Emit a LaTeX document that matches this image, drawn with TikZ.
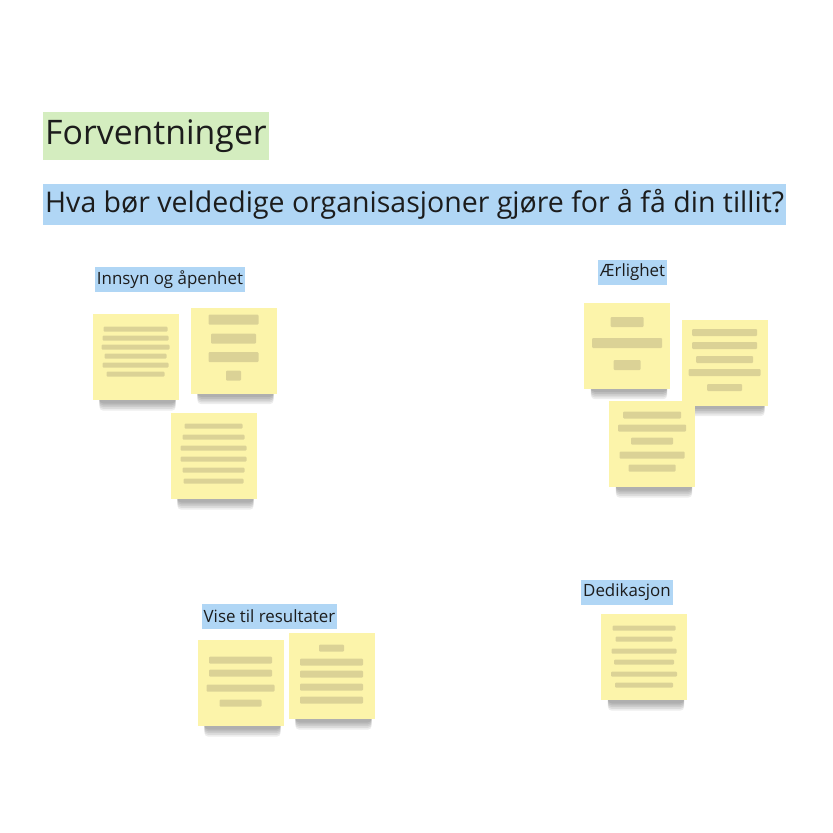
\documentclass[tikz,border=0pt]{standalone}
\usepackage{fontspec}
\setmainfont{Open Sans}
\usetikzlibrary{positioning,calc}
\definecolor{inkdark}{HTML}{1C1C1C}
\definecolor{titlegreen}{HTML}{D4EDBF}
\definecolor{labelblue}{HTML}{B0D6F5}
\definecolor{noteyellow}{HTML}{FCF4AA}
\definecolor{blurink}{HTML}{AFA47C}

\tikzset{
  titlebox/.style={fill=titlegreen, text=inkdark, anchor=west, inner xsep=2pt, minimum height=48pt, font=\fontsize{33.8}{40}\selectfont},
  questionbox/.style={fill=labelblue, text=inkdark, anchor=west, inner xsep=2pt, minimum height=41pt, font=\fontsize{28.5}{34}\selectfont},
  grouplabel/.style={fill=labelblue, text=inkdark, inner xsep=2pt, minimum height=25pt, font=\fontsize{16.9}{20}\selectfont},
  stickynote/.style={fill=noteyellow, minimum width=86pt, minimum height=86pt, inner sep=0pt},
  blurbar/.style={fill=blurink, opacity=0.42, rounded corners=1pt},
  noteshadow/.style={fill=black, opacity=0.07, rounded corners=4pt}
}

% shadow under a note: node name
\newcommand{\noteshade}[1]{%
  \foreach \k in {1,...,5}
    \fill[noteshadow] ($(#1.south west)+(7,-4)$) rectangle ($(#1.south east)+(-3,1.5+1.8*\k)$);
}
% blurred text lines: point, bar height, {width/offset,...}
\newcommand{\blurlines}[3]{%
  \foreach \w/\dy in {#3}
    \fill[blurbar] ($(#1)+(-\w/2,\dy-#2/2)$) rectangle ($(#1)+(\w/2,\dy+#2/2)$);
}

\begin{document}
\begin{tikzpicture}[x=1pt, y=-1pt]
\useasboundingbox (0,0) rectangle (833,833);
\fill[white] (0,0) rectangle (833,833);

% headings
\node[titlebox] (title) at (43,136) {Forventninger};
\node[questionbox] (question) at (43,204.5) {Hva bør veldedige organisasjoner gjøre for å få din tillit?};

% group labels
\node[grouplabel] (innsyn) at (170,279.5) {Innsyn og åpenhet};
\node[grouplabel] (aerlig) at (632.5,272.5) {Ærlighet};
\node[grouplabel] (resultat) at (269.5,616) {Vise til resultater};
\node[grouplabel] (dedik) at (627,592) {Dedikasjon};

% sticky notes
\coordinate (pA) at (135.5,357);
\coordinate (pB) at (233.5,350.5);
\coordinate (pC) at (213.5,456);
\coordinate (pD) at (627,345.5);
\coordinate (pE) at (724.5,362.5);
\coordinate (pF) at (652,444);
\coordinate (pG) at (240.5,683);
\coordinate (pH) at (331.5,676);
\coordinate (pI) at (644,657);

\node[stickynote] (nA) at (pA) {};
\node[stickynote] (nB) at (pB) {};
\node[stickynote] (nC) at (pC) {};
\node[stickynote] (nD) at (pD) {};
\node[stickynote] (nE) at (pE) {};
\node[stickynote] (nF) at (pF) {};
\node[stickynote] (nG) at (pG) {};
\node[stickynote] (nH) at (pH) {};
\node[stickynote] (nI) at (pI) {};

% shadows, then the notes again on top
\foreach \n in {nA,nB,nC,nD,nE,nF,nG,nH,nI} {\noteshade{\n}}
\foreach \n/\p in {nA/pA,nB/pB,nC/pC,nD/pD,nE/pE,nF/pF,nG/pG,nH/pH,nI/pI}
  \fill[noteyellow] ($(\p)+(-43,-43)$) rectangle ($(\p)+(43,43)$);

% unreadable note texts
\blurlines{pA}{5}{64/-28,66/-19,68/-10,62/-1,66/8,58/17}
\blurlines{pB}{10}{50/-31,45/-12,50/6.5,15/25}
\blurlines{pC}{5}{58/-30,62/-19,66/-8,66/3,62/14,60/25}
\blurlines{pD}{10}{33/-23.5,70/-2.5,27/19.5}
\blurlines{pE}{7}{65/-30,65/-17,57/-3,72/10,35/25}
\blurlines{pF}{7}{58/-29,68/-16,42/-3,65/11,47/24}
\blurlines{pG}{7}{63/-23,63/-10,68/5,42/20}
\blurlines{pH}{7}{25/-28,63/-14,63/-2,63/11,63/24}
\blurlines{pI}{5}{63/-29,57/-18,65/-6,60/5,66/17,58/28}
\end{tikzpicture}
\end{document}
